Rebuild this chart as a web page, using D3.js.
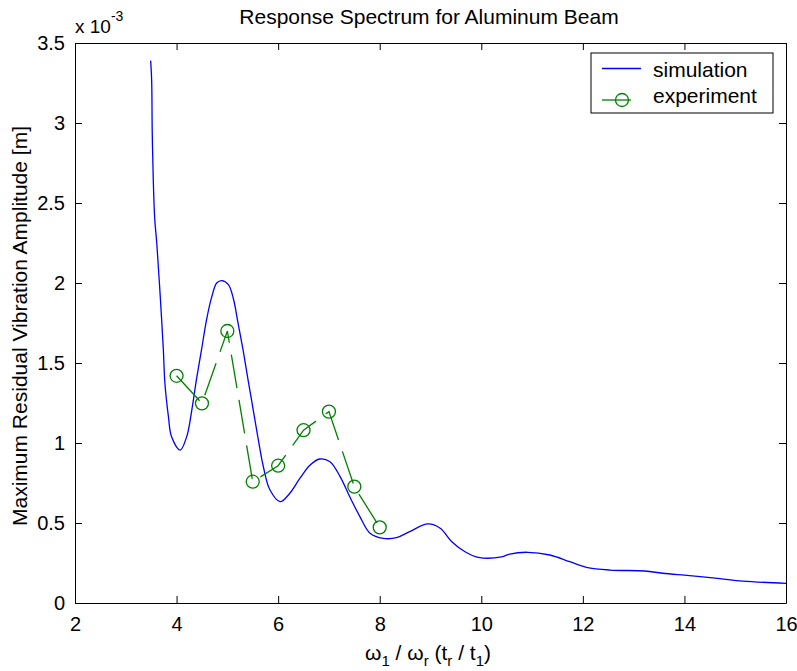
<!DOCTYPE html>
<html>
<head>
<meta charset="utf-8">
<script src="https://cdn.jsdelivr.net/npm/d3@7"></script>
<style>
  body { margin: 0; background: #fff; }
  text { font-family: "Liberation Sans", Arial, sans-serif; fill: #000; }
</style>
</head>
<body>
<script>
// simulated response (units of 1e-3 m)
var simX = [3.49, 3.51, 3.52, 3.54, 3.57, 3.61, 3.67, 3.74, 3.77, 3.84, 3.90, 4.07, 4.20, 4.30, 4.39, 4.49, 4.59, 4.69, 4.79, 4.89,
            5.02, 5.12, 5.21, 5.31, 5.41, 5.51, 5.61, 5.71, 5.84, 6.04, 6.23, 6.43, 6.63, 6.82, 7.02, 7.22, 7.41, 7.61, 7.81, 8.07,
            8.33, 8.59, 8.95, 9.19, 9.42, 9.68, 9.94, 10.40, 10.56, 10.91, 11.35, 11.74, 12.07, 12.53, 13.22, 13.57, 14.10, 14.70, 15.15, 16.0];
var simY = [3.39, 3.26, 2.96, 2.66, 2.40, 2.25, 1.96, 1.58, 1.375, 1.164, 1.04, 0.956, 1.04, 1.206, 1.394, 1.58, 1.77, 1.91, 2.0, 2.015,
            1.99, 1.90, 1.75, 1.58, 1.39, 1.206, 1.02, 0.85, 0.706, 0.633, 0.686, 0.78, 0.863, 0.90, 0.883, 0.79, 0.664, 0.54, 0.436, 0.404,
            0.408, 0.446, 0.494, 0.467, 0.383, 0.32, 0.285, 0.288, 0.306, 0.317, 0.30, 0.258, 0.223, 0.206, 0.200, 0.186, 0.171, 0.152, 0.137, 0.123];

// measured points
var expX = [4, 4.5, 5, 5.5, 6, 6.5, 7, 7.5, 8];
var expY = [1.42, 1.248, 1.70, 0.758, 0.858, 1.08, 1.196, 0.727, 0.473];

var xTicks = [2, 4, 6, 8, 10, 12, 14, 16];
var yTicks = [0, 0.5, 1, 1.5, 2, 2.5, 3, 3.5];

var W = 797, H = 671;
var margin = {top: 43, right: 11, bottom: 68, left: 75};
var width = W - margin.left - margin.right;
var height = H - margin.top - margin.bottom;

var svg = d3.select('body').append('svg')
            .attr('width', W)
            .attr('height', H);

var g = svg.append('g')
           .attr('transform', `translate(${margin.left}, ${margin.top})`);

var x = d3.scaleLinear().domain([2, 16]).range([0, width]);
var y = d3.scaleLinear().domain([0, 3.5]).range([height, 0]);

// axes, ticks pointing inward on all four sides
function styleAxis(sel) {
  sel.select('.domain').attr('stroke', '#000');
  sel.selectAll('.tick line').attr('stroke', '#000');
  sel.selectAll('text').style('font-size', '20px').style('font-family', '"Liberation Sans", Arial, sans-serif');
}

g.append('g')
 .attr('transform', `translate(0, ${height})`)
 .call(d3.axisBottom(x).tickValues(xTicks).tickSizeInner(-7).tickSizeOuter(0).tickPadding(14))
 .call(styleAxis);

g.append('g')
 .call(d3.axisLeft(y).tickValues(yTicks).tickFormat(d3.format('')).tickSizeInner(-7).tickSizeOuter(0).tickPadding(10))
 .call(styleAxis);

g.append('g')
 .call(d3.axisTop(x).tickValues(xTicks).tickSizeInner(-7).tickSizeOuter(0).tickFormat(''))
 .call(styleAxis);

g.append('g')
 .attr('transform', `translate(${width}, 0)`)
 .call(d3.axisRight(y).tickValues(yTicks).tickSizeInner(-7).tickSizeOuter(0).tickFormat(''))
 .call(styleAxis);

// simulation curve
var simData = simX.map((d, i) => ({x: d, y: simY[i]}));
var line = d3.line()
             .x(d => x(d.x))
             .y(d => y(d.y))
             .curve(d3.curveCatmullRom.alpha(0.5));

g.append('path')
 .attr('d', line(simData))
 .attr('fill', 'none')
 .attr('stroke', '#0000ff')
 .attr('stroke-width', 1.3);

// experiment, dashed with open circles
var expData = expX.map((d, i) => ({x: d, y: expY[i]}));
var expLine = d3.line().x(d => x(d.x)).y(d => y(d.y));

g.append('path')
 .attr('d', expLine(expData))
 .attr('fill', 'none')
 .attr('stroke', '#008000')
 .attr('stroke-width', 1.3)
 .attr('stroke-dasharray', '34,12');

g.selectAll('circle.exp')
 .data(expData)
 .enter().append('circle')
 .attr('class', 'exp')
 .attr('cx', d => x(d.x))
 .attr('cy', d => y(d.y))
 .attr('r', 6.5)
 .attr('fill', 'none')
 .attr('stroke', '#008000')
 .attr('stroke-width', 1.3);

// exponent label
var ex = svg.append('text')
            .attr('x', 75)
            .attr('y', 33)
            .style('font-size', '19px');
ex.append('tspan').text('x 10');
ex.append('tspan').attr('dy', -12).style('font-size', '14px').text('-3');

// title
svg.append('text')
   .attr('x', 429)
   .attr('y', 24)
   .attr('text-anchor', 'middle')
   .style('font-size', '21px')
   .text('Response Spectrum for Aluminum Beam');

// x label with subscripts
var xl = svg.append('text')
            .attr('x', 428)
            .attr('y', 660)
            .attr('text-anchor', 'middle')
            .style('font-size', '21px');
xl.append('tspan').text('ω');
xl.append('tspan').attr('dy', 6).style('font-size', '15px').text('1');
xl.append('tspan').attr('dy', -6).text(' / ω');
xl.append('tspan').attr('dy', 6).style('font-size', '15px').text('r');
xl.append('tspan').attr('dy', -6).text(' (t');
xl.append('tspan').attr('dy', 6).style('font-size', '15px').text('r');
xl.append('tspan').attr('dy', -6).text(' / t');
xl.append('tspan').attr('dy', 6).style('font-size', '15px').text('1');
xl.append('tspan').attr('dy', -6).text(')');

// y label
svg.append('text')
   .attr('transform', `translate(27, ${margin.top + height / 2 + 3}) rotate(-90)`)
   .attr('text-anchor', 'middle')
   .style('font-size', '21px')
   .text('Maximum Residual Vibration Amplitude [m]');

// legend
var lg = svg.append('g').attr('transform', 'translate(591, 53)');
lg.append('rect')
  .attr('width', 182).attr('height', 60)
  .attr('fill', '#fff').attr('stroke', '#000');
lg.append('line')
  .attr('x1', 11).attr('x2', 50).attr('y1', 15.5).attr('y2', 15.5)
  .attr('stroke', '#0000ff').attr('stroke-width', 1.3);
lg.append('text').attr('x', 62).attr('y', 24).style('font-size', '21px').text('simulation');
lg.append('line')
  .attr('x1', 11).attr('x2', 40).attr('y1', 47).attr('y2', 47)
  .attr('stroke', '#008000').attr('stroke-width', 1.3);
lg.append('circle')
  .attr('cx', 31).attr('cy', 47).attr('r', 6.5)
  .attr('fill', 'none').attr('stroke', '#008000').attr('stroke-width', 1.3);
lg.append('text').attr('x', 62).attr('y', 50).style('font-size', '21px').text('experiment');
</script>
</body>
</html>
